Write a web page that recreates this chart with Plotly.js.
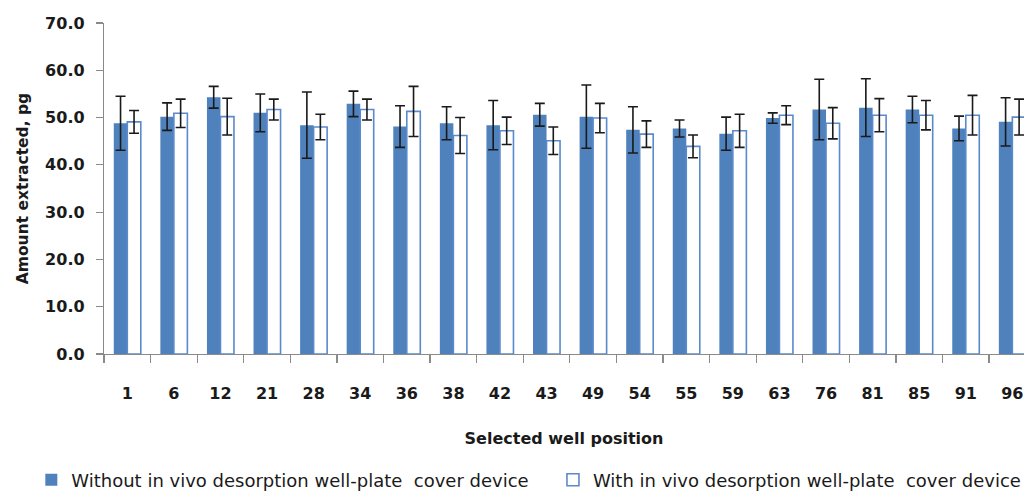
<!DOCTYPE html>
<html>
<head>
<meta charset="utf-8">
<script src="https://cdn.plot.ly/plotly-3.0.1.min.js"></script>
<style>html,body{margin:0;padding:0;background:#fff;}#chart{width:1024px;height:491px;}</style>
</head>
<body>
<div id="chart"></div>
<script>
const positions = ['1','6','12','21','28','34','36','38','42','43','49','54','55','59','63','76','81','85','91','96'];
const withoutDevice = [48.8,50.2,54.3,51.0,48.4,52.9,48.1,48.8,48.4,50.6,50.2,47.4,47.7,46.6,49.9,51.7,52.1,51.7,47.7,49.1];
const withoutErr = [5.7,2.9,2.3,4.0,7.0,2.7,4.4,3.5,5.2,2.4,6.7,4.9,1.8,3.5,1.1,6.4,6.1,2.8,2.6,5.1];
const withDevice = [49.1,50.9,50.2,51.7,48.0,51.7,51.3,46.2,47.2,45.1,49.9,46.5,43.9,47.2,50.5,48.8,50.5,50.5,50.5,50.1];
const withErr = [2.4,3.0,3.9,2.2,2.7,2.2,5.3,3.8,2.9,2.9,3.1,2.8,2.4,3.5,2.0,3.3,3.5,3.1,4.2,3.8];

const seriesNames = ['Without in vivo desorption well-plate\u00a0 cover device',
                     'With in vivo desorption well-plate\u00a0 cover device'];
const blue = '#4F81BD';
const txt = '#1a1a1a';
const fam = 'DejaVu Sans, sans-serif';
const errStyle = {type:'data', visible:true, color:'#1a1a1a', thickness:1.6, width:5};

const traces = [
  {type:'bar', name:seriesNames[0], x:positions, y:withoutDevice, legend:'legend',
   marker:{color:blue, line:{width:0}},
   error_y:Object.assign({array:withoutErr}, errStyle)},
  {type:'bar', name:seriesNames[1], x:positions, y:withDevice, legend:'legend2',
   marker:{color:'#ffffff', line:{color:'#5A8ACB', width:1.6}},
   error_y:Object.assign({array:withErr}, errStyle)}
];

const legendCommon = {orientation:'h', xanchor:'left', y:-0.381, yanchor:'middle',
  font:{size:18, family:fam, color:txt}, itemwidth:30, bgcolor:'rgba(0,0,0,0)', borderwidth:0};

const layout = {
  width:1024, height:491,
  margin:{l:104, r:0, t:23, b:137, autoexpand:false},
  paper_bgcolor:'#ffffff', plot_bgcolor:'#ffffff',
  barmode:'group', bargap:0.42, bargroupgap:0,
  font:{family:fam, color:txt},
  showlegend:true,
  legend:Object.assign({x:-0.079}, legendCommon),
  legend2:Object.assign({x:0.488}, legendCommon),
  xaxis:{type:'category', range:[-0.5, 19.25], showline:true, linecolor:'#8a8a8a', linewidth:1.2,
         ticks:'outside', tickson:'boundaries', ticklen:8, tickcolor:'#8a8a8a', tickwidth:1.2,
         ticklabelstandoff:25, automargin:false,
         tickfont:{size:16, family:fam, color:txt, weight:'bold'},
         showgrid:false, zeroline:false, fixedrange:true,
         title:{text:'<b>Selected well position</b>', standoff:30,
                font:{size:16, family:fam, color:txt}}},
  yaxis:{range:[0,70], dtick:10, tickformat:'.1f', showline:true, linecolor:'#8a8a8a', linewidth:1.2,
         ticks:'outside', ticklen:7, tickcolor:'#8a8a8a', tickwidth:1.2,
         ticklabelstandoff:8, automargin:false,
         tickfont:{size:16, family:fam, color:txt, weight:'bold'},
         showgrid:false, zeroline:false, fixedrange:true,
         title:{text:'<b>Amount extracted, pg</b>', standoff:12,
                font:{size:15.5, family:fam, color:txt}}}
};

Plotly.newPlot('chart', traces, layout, {displayModeBar:false, staticPlot:true});
</script>
</body>
</html>
